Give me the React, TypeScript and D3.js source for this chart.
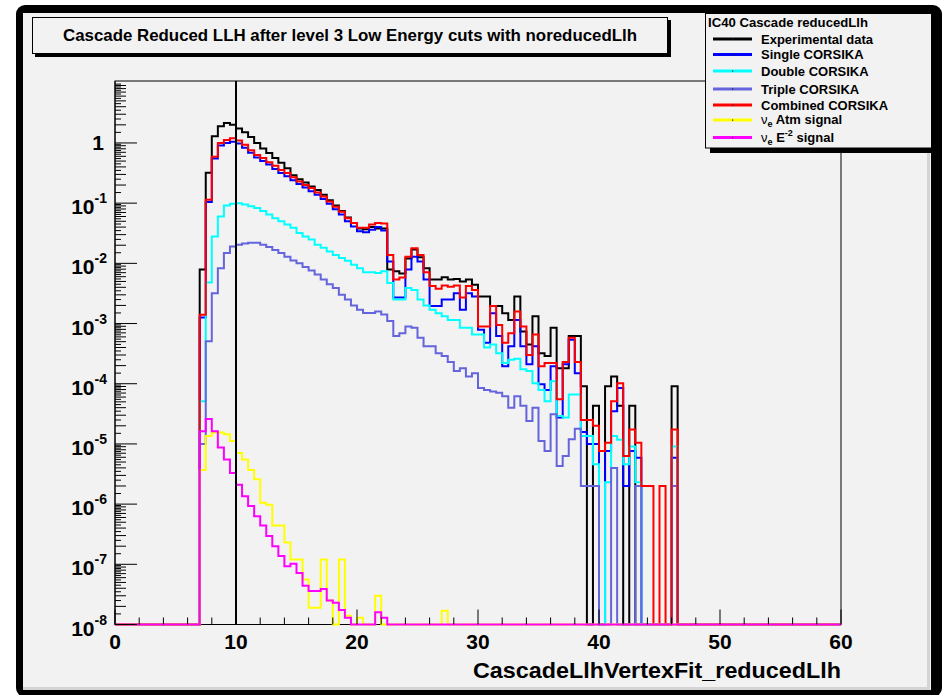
import React from "react";
import * as d3 from "d3";

// ---------- data (bins of width 0.5, first listed bin starts at 7.0) ----------
const FIRST_BIN = 7.0;
const BIN_WIDTH = 0.5;
const X_MIN = 0;
const X_MAX = 60;
const Y_MIN = 1e-8;
const Y_MAX = 10.7;

const experimentalData = [
  7.9e-3, 0.32, 1.29, 1.9, 2.14, 2.0, 1.74, 1.51, 1.26, 1.0,
  0.81, 0.68, 0.56, 0.47, 0.38, 0.29, 0.25, 0.22, 0.19, 0.166,
  0.138, 0.112, 0.091, 0.074, 0.058, 0.047, 0.038, 0.037, 0.04, 0.038,
  0.038, 7.9e-3, 7.4e-3, 6.8e-3, 0.012, 0.017, 0.0126, 8.3e-3, 5.4e-3, 5.4e-3,
  5.9e-3, 5.4e-3, 5.5e-3, 5.0e-3, 5.4e-3, 4.4e-3, 2.8e-3, 2.8e-3, 1.95e-3, 1.95e-3,
  1.48e-3, 1.15e-3, 2.8e-3, 7.4e-4, 4.5e-4, 1.32e-3, 3.2e-4, 2.9e-4, 8.5e-4, 1.8e-4,
  1.8e-4, 6.2e-4, 6.2e-4, 9.1e-5, 0, 4.3e-5, 0, 9.1e-5, 1.32e-4, 4.3e-5,
  0, 4.3e-5, 0, 0, 0, 0, 0, 0, 9.1e-5, 0,
];

const singleCorsika = [
  1.26e-3, 0.105, 0.55, 0.91, 1.0, 1.05, 0.98, 0.83, 0.69, 0.575,
  0.5, 0.437, 0.37, 0.316, 0.28, 0.24, 0.209, 0.182, 0.158, 0.138,
  0.117, 0.098, 0.079, 0.065, 0.05, 0.041, 0.034, 0.033, 0.036, 0.04,
  0.035, 0.0107, 2.7e-3, 2.7e-3, 7.9e-3, 0.0129, 0.0107, 5.4e-3, 1.95e-3, 1.95e-3,
  2.5e-3, 2.5e-3, 3.2e-3, 1.7e-3, 3.2e-3, 2.8e-3, 7.9e-4, 4.8e-4, 1.48e-3, 6.2e-4,
  1.95e-4, 4.2e-4, 1.15e-3, 4.2e-4, 2.1e-4, 4.2e-4, 9.8e-5, 7.9e-5, 1.95e-4, 2.75e-5,
  2.1e-4, 5.4e-4, 1.5e-4, 1.58e-5, 1.0e-5, 1.0e-5, 0, 7.6e-6, 3.5e-5, 8.5e-5,
  2.0e-6, 7.6e-6, 5.9e-6, 0, 0, 0, 0, 0, 5.9e-6, 0,
];

const doubleCorsika = [
  5.1e-5, 4.8e-3, 0.028, 0.06, 0.091, 0.098, 0.1, 0.095, 0.089, 0.083,
  0.074, 0.065, 0.056, 0.05, 0.044, 0.039, 0.032, 0.028, 0.025, 0.0204,
  0.0182, 0.0158, 0.0138, 0.0123, 0.011, 9.5e-3, 8.3e-3, 7.1e-3, 7.1e-3, 6.9e-3,
  7.4e-3, 4.7e-3, 2.5e-3, 2.5e-3, 3.9e-3, 3.6e-3, 2.5e-3, 2.0e-3, 1.7e-3, 1.48e-3,
  1.32e-3, 1.15e-3, 1.15e-3, 8.5e-4, 8.5e-4, 6.6e-4, 6.6e-4, 4.0e-4, 4.5e-4, 3.2e-4,
  2.2e-4, 2.5e-4, 2.6e-4, 1.74e-4, 1.62e-4, 1.02e-4, 7.9e-5, 5.1e-5, 1.1e-4, 2.9e-5,
  2.75e-5, 6.6e-5, 6.6e-5, 1.35e-5, 1.35e-5, 4.6e-6, 0, 2.3e-6, 1.35e-5, 1.17e-5,
  4.6e-6, 9.1e-6, 2.3e-6, 0, 0, 0, 0, 0, 9.1e-6, 0,
];

const tripleCorsika = [
  1.0e-5, 5.1e-4, 3.2e-3, 8.3e-3, 0.0148, 0.019, 0.0204, 0.0214, 0.0219, 0.0219,
  0.0204, 0.0186, 0.0166, 0.0148, 0.0129, 0.0112, 0.01, 8.7e-3, 7.6e-3, 6.5e-3,
  5.4e-3, 4.5e-3, 3.9e-3, 3.0e-3, 2.5e-3, 2.0e-3, 1.7e-3, 1.5e-3, 1.5e-3, 1.58e-3,
  1.41e-3, 1.1e-3, 6.2e-4, 6.9e-4, 8.9e-4, 8.5e-4, 5.8e-4, 4.2e-4, 4.2e-4, 3.2e-4,
  2.9e-4, 2.3e-4, 1.62e-4, 1.8e-4, 1.32e-4, 1.5e-4, 8.5e-5, 7.9e-5, 7.4e-5, 7.1e-5,
  6.2e-5, 4.0e-5, 6.2e-5, 4.3e-5, 2.4e-5, 4.0e-5, 1.12e-5, 7.6e-6, 3.1e-5, 4.3e-6,
  6.3e-6, 1.2e-5, 1.78e-5, 2.0e-6, 2.0e-6, 2.0e-6, 0, 0, 4.0e-6, 0,
  0, 0, 2.0e-6, 0, 0, 0, 0, 0, 2.0e-6, 0,
];

const combinedCorsika = [
  1.4e-3, 0.114, 0.59, 1.0, 1.12, 1.2, 1.1, 0.93, 0.76, 0.63,
  0.56, 0.48, 0.42, 0.355, 0.316, 0.27, 0.23, 0.2, 0.178, 0.151,
  0.129, 0.107, 0.087, 0.072, 0.056, 0.047, 0.039, 0.039, 0.044, 0.047,
  0.046, 0.0138, 5.4e-3, 5.8e-3, 0.0129, 0.0178, 0.0138, 7.1e-3, 4.2e-3, 3.8e-3,
  4.3e-3, 4.1e-3, 4.3e-3, 2.7e-3, 4.2e-3, 3.6e-3, 8.9e-4, 8.9e-4, 1.95e-3, 9.5e-4,
  4.8e-4, 6.9e-4, 1.58e-3, 8.9e-4, 3.0e-4, 6.6e-4, 1.95e-4, 2.2e-4, 2.2e-4, 5.5e-5,
  2.3e-4, 5.8e-4, 2.3e-4, 2.5e-5, 2.5e-5, 2.0e-5, 7.6e-6, 1.05e-5, 5.1e-5, 1.02e-4,
  6.3e-6, 1.74e-5, 1.05e-5, 2.0e-6, 2.0e-6, 0, 2.0e-6, 0, 1.74e-5, 0,
];

const nueAtmSignal = [
  3.7e-6, 1.35e-5, 1.55e-5, 1.55e-5, 1.45e-5, 1.12e-5, 7.1e-6, 5.5e-6, 3.7e-6, 2.6e-6,
  1.05e-6, 9.8e-7, 4.4e-7, 4.4e-7, 2.3e-7, 1.2e-7, 1.2e-7, 5.6e-8, 1.9e-8, 1.9e-8,
  1.2e-7, 2.5e-8, 0, 1.2e-7, 1.4e-8, 0, 1.3e-8, 0, 0, 3.0e-8,
  0, 0, 0, 0, 0, 0, 0, 0, 0, 0,
  1.7e-8,
];

const nueE2Signal = [
  1.62e-5, 2.6e-5, 1.62e-5, 8.7e-6, 5.5e-6, 3.3e-6, 2.1e-6, 1.35e-6, 9.3e-7, 6.3e-7,
  4.4e-7, 2.95e-7, 2.0e-7, 1.38e-7, 9.3e-8, 1.02e-7, 7.2e-8, 4.4e-8, 3.6e-8, 3.6e-8,
  3.9e-8, 2.5e-8, 2.3e-8, 1.74e-8, 1.3e-8, 0, 0, 0, 0, 1.6e-8,
  1.3e-8,
];

const CUT_VALUE = 10;

const xMajorTicks = [0, 10, 20, 30, 40, 50, 60];
const xMinorStep = 2;
const yDecadeExponents = [-8, -7, -6, -5, -4, -3, -2, -1, 0];

const seriesValues = [
  experimentalData,
  singleCorsika,
  doubleCorsika,
  tripleCorsika,
  combinedCorsika,
  nueAtmSignal,
  nueE2Signal,
];
const seriesColors = ["#000000", "#0000ff", "#00ffff", "#6464dc", "#ff0000", "#ffff00", "#ff00ff"];
const legendLabels = [
  "Experimental data",
  "Single CORSIKA",
  "Double CORSIKA",
  "Triple CORSIKA",
  "Combined CORSIKA",
  "nu_atm",
  "nu_e2",
];

const TITLE = "Cascade Reduced LLH after level 3 Low Energy cuts with noreducedLlh";
const LEGEND_HEADER = "IC40 Cascade reducedLlh";
const X_TITLE = "CascadeLlhVertexFit_reducedLlh";

const FONT = "'Liberation Sans', Arial, Helvetica, sans-serif";
const BG = "#f2f2f2";

export default function App() {
  const x = d3.scaleLinear().domain([X_MIN, X_MAX]).range([115, 841]);
  const y = d3.scaleLog().domain([Y_MIN, Y_MAX]).range([624.5, 81]);
  const floor = y(Y_MIN);
  const nBins = Math.round((X_MAX - X_MIN) / BIN_WIDTH);

  const histPath = (values: number[]) => {
    const pts: [number, number][] = [[x(X_MIN), floor]];
    for (let i = 0; i < nBins; i++) {
      const lo = X_MIN + i * BIN_WIDTH;
      const hi = lo + BIN_WIDTH;
      const k = Math.round((lo - FIRST_BIN) / BIN_WIDTH);
      const v = k >= 0 && k < values.length ? values[k] : 0;
      const yy = v > Y_MIN ? y(Math.min(v, Y_MAX)) : floor;
      pts.push([x(lo), yy], [x(hi), yy]);
    }
    pts.push([x(X_MAX), floor]);
    return d3.line()(pts) || "";
  };

  const xMinor: number[] = d3.range(X_MIN, X_MAX + 0.001, xMinorStep).filter((t) => t % 10 !== 0);
  const yMinor: { v: number; len: number }[] = [];
  for (let e = -8; e <= 0; e++) {
    for (let n = 1; n <= 9; n++) {
      const base = Math.pow(10, e);
      if (n > 1) {
        const v = n * base;
        if (v < Y_MAX) yMinor.push({ v, len: 11 });
      }
      const h = (n + 0.5) * base;
      if (h < Y_MAX && h < 10 * base) yMinor.push({ v: h, len: 6 });
    }
  }

  const legendRows = [39, 54.5, 71, 89, 105, 120, 137.5];
  const legendBase = [43.5, 59, 75.5, 93.5, 109.5, 123.5, 141.5];

  return (
    <svg
      width={942}
      height={695}
      style={{ position: "absolute", left: 0, top: 0 }}
      fontFamily={FONT}
    >
      <rect x={0} y={0} width={942} height={695} fill="#ffffff" />
      <rect x={16} y={5} width={926} height={692} rx={9} fill="#000000" />
      <rect x={23} y={13} width={908} height={677} fill={BG} />
      <rect x={927} y={13} width={3} height={677} fill="#d4d4d4" />
      <rect x={23} y={687} width={907} height={3} fill="#d4d4d4" />

      {/* title box */}
      <rect x={35} y={20} width={636} height={37} fill="#000" />
      <rect x={32.5} y={17.5} width={635} height={36} fill={BG} stroke="#000" strokeWidth={1} />
      <text
        x={350}
        y={41}
        textAnchor="middle"
        fontSize={16.5}
        fontWeight="bold"
        textLength={574}
        lengthAdjust="spacingAndGlyphs"
      >
        {TITLE}
      </text>

      {/* frame */}
      <rect x={115} y={81} width={726} height={543.5} fill={BG} stroke="#000" strokeWidth={1} />

      {/* histograms */}
      {seriesValues.map((vals, i) => (
        <path key={i} d={histPath(vals)} fill="none" stroke={seriesColors[i]} strokeWidth={2} strokeLinejoin="miter" />
      ))}

      {/* cut line */}
      <line x1={x(CUT_VALUE)} x2={x(CUT_VALUE)} y1={81} y2={floor} stroke="#000" strokeWidth={2} />

      {/* x ticks */}
      {xMajorTicks.map((t) => (
        <line key={"xM" + t} x1={x(t)} x2={x(t)} y1={floor} y2={floor - 15} stroke="#000" strokeWidth={1} />
      ))}
      {xMinor.map((t) => (
        <line key={"xm" + t} x1={x(t)} x2={x(t)} y1={floor} y2={floor - 7} stroke="#000" strokeWidth={1} />
      ))}
      {xMajorTicks.map((t) => (
        <text key={"xl" + t} x={x(t)} y={649} textAnchor="middle" fontSize={21} fontWeight="bold">
          {t}
        </text>
      ))}
      <text
        x={841}
        y={678}
        textAnchor="end"
        fontSize={22}
        fontWeight="bold"
        textLength={368}
        lengthAdjust="spacingAndGlyphs"
      >
        {X_TITLE}
      </text>

      {/* y ticks */}
      <line x1={115} x2={115} y1={81} y2={floor} stroke="#000" strokeWidth={1} />
      {yDecadeExponents.map((e) => (
        <line key={"yM" + e} x1={115} x2={137} y1={y(Math.pow(10, e))} y2={y(Math.pow(10, e))} stroke="#000" strokeWidth={1} />
      ))}
      {yMinor.map((m, i) => (
        <line key={"ym" + i} x1={115} x2={115 + m.len} y1={y(m.v)} y2={y(m.v)} stroke="#000" strokeWidth={1} />
      ))}
      {yDecadeExponents.map((e) =>
        e === 0 ? (
          <text key={"yl" + e} x={104} y={y(1) + 7.5} textAnchor="end" fontSize={21} fontWeight="bold">
            1
          </text>
        ) : (
          <text key={"yl" + e} x={107} y={y(Math.pow(10, e)) + 11} textAnchor="end" fontSize={21} fontWeight="bold">
            10
            <tspan fontSize={14} dy={-11}>
              {String(e)}
            </tspan>
          </text>
        )
      )}

      {/* legend */}
      <rect x={710} y={148} width={222} height={5} fill="#000" />
      <rect x={705.5} y={13.5} width={226} height={134.5} fill={BG} stroke="#000" strokeWidth={1} />
      <text x={708} y={27} fontSize={13} fontWeight="bold" textLength={160} lengthAdjust="spacingAndGlyphs">
        {LEGEND_HEADER}
      </text>
      {legendLabels.map((lab, i) => (
        <g key={"lg" + i}>
          <line x1={713} x2={752} y1={legendRows[i]} y2={legendRows[i]} stroke={seriesColors[i]} strokeWidth={3} />
          <rect x={732} y={legendRows[i] - 0.5} width={1.2} height={1.2} fill="#202020" />
          {lab === "nu_atm" ? (
            <text x={761} y={legendBase[i]} fontSize={13} fontWeight="bold">
              <tspan fontWeight="normal">ν</tspan>
              <tspan fontSize={9} dy={3}>e</tspan>
              <tspan dy={-3}> Atm signal</tspan>
            </text>
          ) : lab === "nu_e2" ? (
            <text x={761} y={legendBase[i]} fontSize={13} fontWeight="bold">
              <tspan fontWeight="normal">ν</tspan>
              <tspan fontSize={9} dy={3}>e</tspan>
              <tspan dy={-3}> E</tspan>
              <tspan fontSize={9} dy={-6}>-2</tspan>
              <tspan dy={6}> signal</tspan>
            </text>
          ) : (
            <text x={761} y={legendBase[i]} fontSize={13} fontWeight="bold">
              {lab}
            </text>
          )}
        </g>
      ))}
    </svg>
  );
}
